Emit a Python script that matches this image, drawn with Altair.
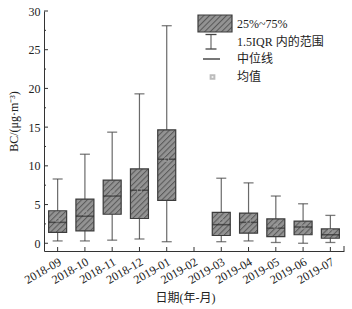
import altair as alt
import pandas as pd
import urllib.parse

months = ["2018-09", "2018-10", "2018-11", "2018-12", "2019-01", "2019-02",
          "2019-03", "2019-04", "2019-05", "2019-06", "2019-07"]
lower = [0.3, 0.3, 0.4, 0.55, 0.2, None, 0.2, 0.3, 0.1, 0.0, 0.1]
q1 = [1.4, 1.6, 3.75, 3.2, 5.55, None, 1.0, 1.3, 0.85, 1.1, 0.65]
median = [2.7, 3.5, 6.1, 6.85, 10.85, None, 2.4, 2.7, 1.95, 2.1, 1.1]
q3 = [4.2, 5.7, 8.15, 9.6, 14.65, None, 4.0, 3.9, 3.15, 2.85, 1.85]
upper = [8.3, 11.5, 14.35, 19.3, 28.1, None, 8.4, 7.8, 6.1, 5.1, 3.6]
mean = [3.0, 3.9, 6.5, 6.8, 10.8, None, 2.9, 2.85, 2.2, 2.1, 1.55]

major_ticks = [0, 5, 10, 15, 20, 25, 30]
minor_ticks = [2.5, 7.5, 12.5, 17.5, 22.5, 27.5]

legend_labels = ["25%~75%", "1.5IQR 内的范围", "中位线", "均值"]

FONT = "'Liberation Serif', 'Times New Roman', 'Noto Sans CJK SC', serif"
W, H = 300, 240

df = pd.DataFrame({"month": months, "lower": lower, "q1": q1, "median": median,
                   "q3": q3, "upper": upper, "mean": mean}).dropna()

hatch_svg = ("<svg xmlns='http://www.w3.org/2000/svg' width='100%' height='100%'>"
             "<defs><pattern id='p' width='4' height='4' patternUnits='userSpaceOnUse' "
             "patternTransform='rotate(45)'><rect width='4' height='4' fill='#939393'/>"
             "<line x1='0.5' y1='0' x2='0.5' y2='4' stroke='#5a5a5a' stroke-width='1.1'/>"
             "</pattern></defs><rect width='100%' height='100%' fill='url(#p)'/></svg>")
hatch_uri = "data:image/svg+xml;charset=utf-8," + urllib.parse.quote(hatch_svg)

xscale = alt.Scale(domain=months, paddingInner=0, paddingOuter=0)
yscale = alt.Scale(domain=[-1, 30], nice=False, zero=False)

XAXIS = alt.Axis(title="日期(年-月)", labelAngle=330, labelAlign="right",
                 labelBaseline="top", labelPadding=5, ticks=False,
                 labelOverlap=False, domainColor="#333", titlePadding=7,
                 titleX=141, labelFontSize=12, titleFontSize=12,
                 labelFont=FONT, titleFont=FONT)
YAXIS = alt.Axis(title="BC/(μg·m⁻³)", values=major_ticks, ticks=False,
                 grid=False, domainColor="#333", labelPadding=4,
                 labelOverlap=False, labelFlush=False, tickCount=7,
                 titlePadding=8, titleY=110, labelFontSize=12, titleFontSize=12,
                 labelFont=FONT, titleFont=FONT)


def XS():
    return alt.X("month:N", scale=xscale, sort=months, axis=XAXIS, title="日期(年-月)")


def YS(field):
    return alt.Y(field, scale=yscale, axis=YAXIS, title="BC/(μg·m⁻³)")


base = alt.Chart(df)

whisker = base.mark_rule(color="#6a6a6a", strokeWidth=1.2).encode(
    x=XS(), y=YS("upper:Q"), y2="lower:Q")
cap_top = base.mark_tick(orient="horizontal", size=10, thickness=1.3, color="#444").encode(
    x=XS(), y=YS("upper:Q"))
cap_bot = base.mark_tick(orient="horizontal", size=10, thickness=1.3, color="#444").encode(
    x=XS(), y=YS("lower:Q"))
box_fill = base.mark_bar(width=18, color="#8f8f8f").encode(
    x=XS(), y=YS("q3:Q"), y2="q1:Q")
box_hatch = base.mark_image(width=18, aspect=False).encode(
    x=XS(), y=YS("q3:Q"), y2="q1:Q", url=alt.value(hatch_uri))
box_line = base.mark_bar(width=18, fillOpacity=0, stroke="#3c3c3c", strokeWidth=1.2).encode(
    x=XS(), y=YS("q3:Q"), y2="q1:Q")
med = base.mark_tick(orient="horizontal", size=18, thickness=1.5, color="#2e2e2e").encode(
    x=XS(), y=YS("median:Q"))
mean_pt = base.mark_point(shape="square", size=14, filled=False, color="#a0a0a0",
                          strokeWidth=1).encode(
    x=XS(), y=YS("mean:Q"))

# inward axis ticks
ymaj = alt.Chart(pd.DataFrame({"v": major_ticks})).mark_rule(color="#333").encode(
    y=YS("v:Q"), x=alt.value(0), x2=alt.value(4))
ymin = alt.Chart(pd.DataFrame({"v": minor_ticks})).mark_rule(color="#333").encode(
    y=YS("v:Q"), x=alt.value(0), x2=alt.value(2))
xt = alt.Chart(pd.DataFrame({"month": months})).mark_rule(color="#333").encode(
    x=XS(), y=alt.value(H), y2=alt.value(H - 4))
xend = alt.Chart(pd.DataFrame({"a": [0]})).mark_rule(color="#333").encode(
    x=alt.value(W), y=alt.value(H), y2=alt.value(H - 5))

# legend
one = alt.Chart(pd.DataFrame({"a": [0]}))
lg_fill = one.mark_rect(color="#8f8f8f").encode(
    x=alt.value(154), x2=alt.value(188), y=alt.value(4), y2=alt.value(21))
lg_hatch = one.mark_image(aspect=False).encode(
    x=alt.value(154), x2=alt.value(188), y=alt.value(4), y2=alt.value(21),
    url=alt.value(hatch_uri))
lg_line = one.mark_rect(fillOpacity=0, stroke="#3c3c3c", strokeWidth=1.2).encode(
    x=alt.value(154), x2=alt.value(188), y=alt.value(4), y2=alt.value(21))
lg_wh = one.mark_rule(color="#6a6a6a", strokeWidth=1.2).encode(
    x=alt.value(167), y=alt.value(23.5), y2=alt.value(38))
lg_c1 = one.mark_rule(color="#444", strokeWidth=1.3).encode(
    x=alt.value(161.5), x2=alt.value(172.5), y=alt.value(23.5))
lg_c2 = one.mark_rule(color="#444", strokeWidth=1.3).encode(
    x=alt.value(161.5), x2=alt.value(172.5), y=alt.value(38))
lg_med = one.mark_rule(color="#2e2e2e", strokeWidth=1.3).encode(
    x=alt.value(159), x2=alt.value(176), y=alt.value(48))
lg_mean = one.mark_point(shape="square", size=14, filled=False, color="#a0a0a0").encode(
    x=alt.value(168.5), y=alt.value(66))
legend_y = [12.5, 31, 48, 66]
lg_texts = [
    one.mark_text(align="left", baseline="middle", font=FONT, fontSize=12,
                  color="#222", text=t).encode(x=alt.value(193), y=alt.value(yy))
    for t, yy in zip(legend_labels, legend_y)
]

chart = alt.layer(
    whisker, cap_top, cap_bot, box_fill, box_hatch, box_line, med, mean_pt,
    ymaj, ymin, xt, xend,
    lg_fill, lg_hatch, lg_line, lg_wh, lg_c1, lg_c2, lg_med, lg_mean, *lg_texts
).properties(
    width=W, height=H,
    autosize=alt.AutoSizeParams(type="none"),
    padding={"left": 44, "top": 11, "right": 8, "bottom": 58},
).configure(font=FONT).configure_view(stroke=None).configure_axis(
    labelFont=FONT, titleFont=FONT, labelColor="#222", titleColor="#222",
    titleFontWeight="normal", labelOverlap=False)

chart.save("out.html", embed_options={"renderer": "svg", "actions": False})
